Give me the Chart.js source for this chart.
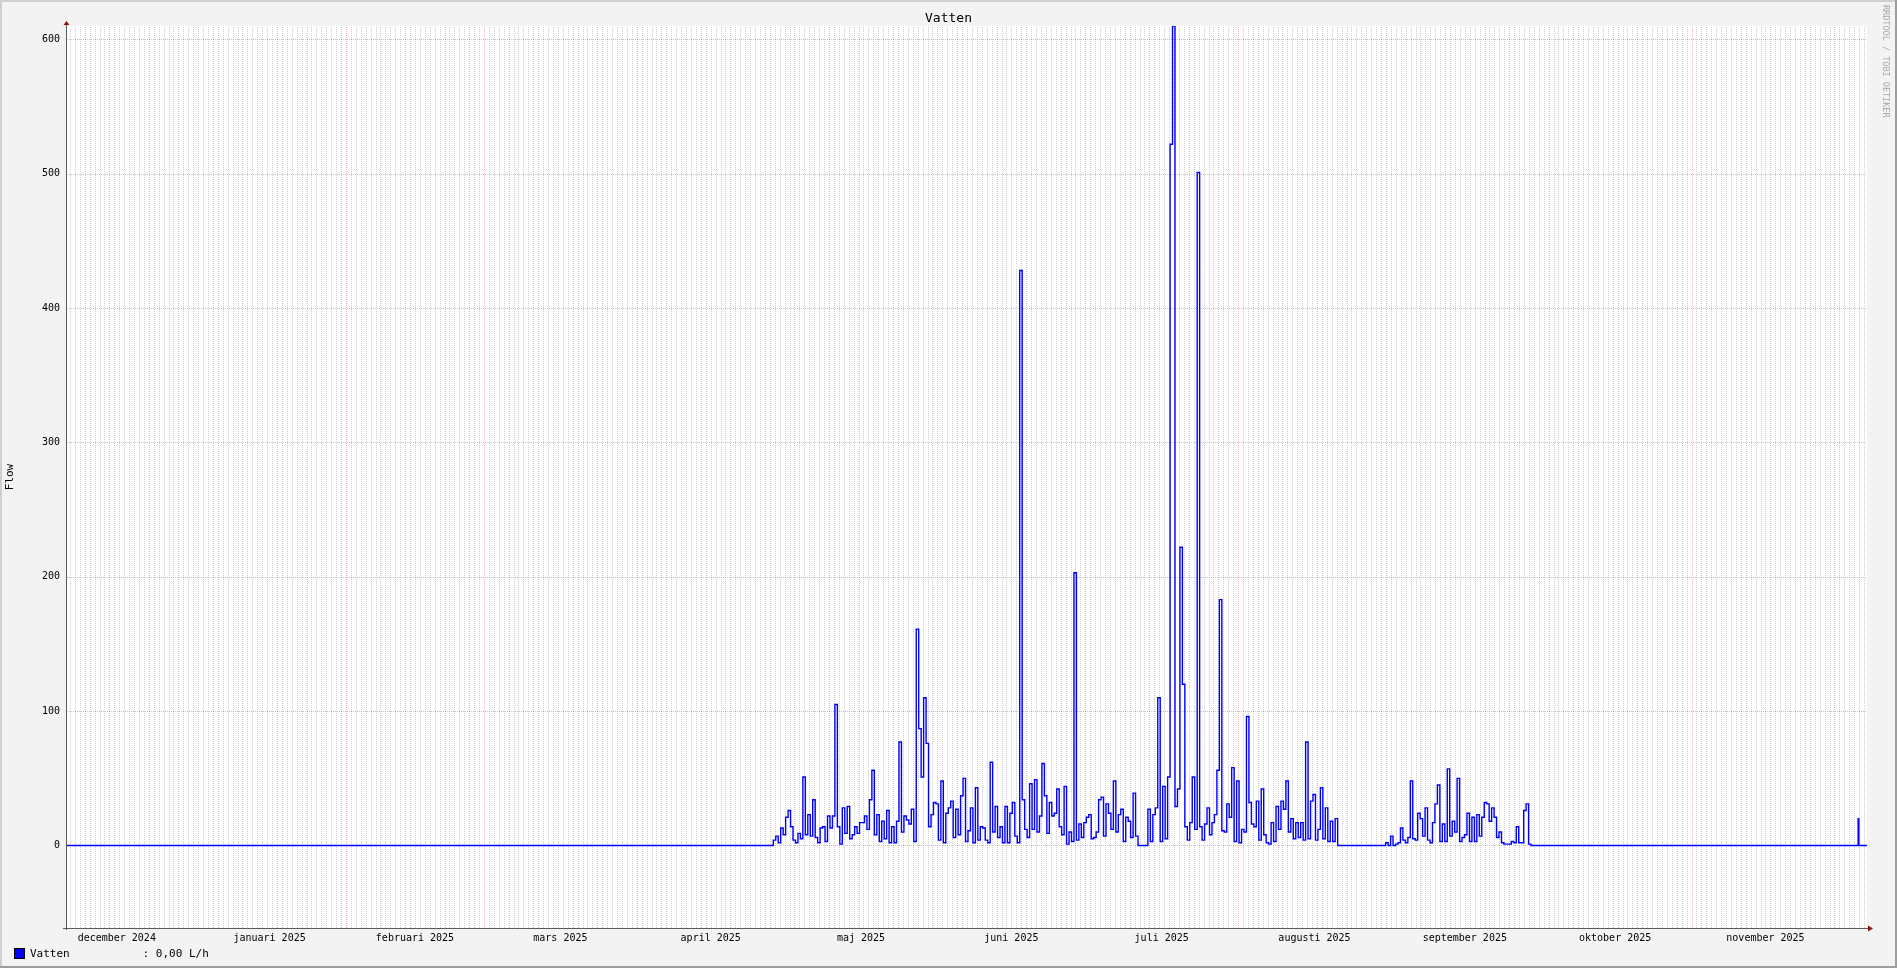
<!DOCTYPE html>
<html>
<head>
<meta charset="utf-8">
<title>Vatten</title>
<script src="https://cdn.jsdelivr.net/npm/chart.js@4.4.1/dist/chart.umd.min.js"></script>
<style>
  html, body { margin: 0; padding: 0; background: #f3f3f3; }
  canvas { display: block; }
</style>
</head>
<body>
<canvas id="vatten" width="1897" height="968"></canvas>
<script>
(function() {

  'use strict';

  // Time axis is counted in days from 1 January 2025.
  const X_MIN = -25.6;
  const X_MAX = 339.6;
  const Y_MIN = -61.41;
  const Y_MAX = 610;

  const monthStarts = [-31, 0, 31, 59, 90, 120, 151, 181, 212, 243, 273, 304, 334];
  const monthLabels = [
    'december 2024', 'januari 2025', 'februari 2025', 'mars 2025',
    'april 2025', 'maj 2025', 'juni 2025', 'juli 2025',
    'augusti 2025', 'september 2025', 'oktober 2025', 'november 2025',
  ];
  const yTicks = [0, 100, 200, 300, 400, 500, 600];

  // Flow in L/h, one value per half day.
  const STEP = 0.5;
  const springStart = 117.7;
  const springFlow = [
    4, 7, 2, 13, 8, 21, 26, 14, 4, 2,
    9, 5, 51, 8, 23, 7, 34, 6, 2, 13,
    14, 3, 22, 13, 22, 105, 14, 1, 28, 9,
    29, 5, 8, 14, 9, 17, 17, 22, 12, 34,
    56, 8, 23, 3, 18, 5, 26, 2, 14, 2,
    18, 77, 10, 22, 19, 16, 27,
    3, 161, 87, 51, 110, 76, 14, 23, 32, 31,
    4, 48, 2, 24, 28, 33, 6, 27, 8, 37,
    50, 3, 11, 28, 2, 43, 4, 14, 13, 4,
    2, 62, 10, 29, 6, 14, 2, 29, 2, 24,
    32, 7, 2, 428, 34, 12, 6, 46, 12, 49,
    10, 22, 61, 37, 9, 32, 22, 24, 42, 14,
    8, 44, 1, 10, 3, 203, 4, 16, 6, 17,
    21, 23, 5, 6, 10, 34, 36, 7, 31, 24,
    12, 48, 10, 23, 27, 3, 21, 18, 6, 39,
    7, 0, 0, 0, 0, 27, 3, 23, 28, 110,
    3, 44, 5, 51, 522, 610, 29, 42, 222, 120,
    14, 4, 17, 51, 12, 501, 14, 4, 16, 28,
    8, 17, 23, 56, 183, 11, 10, 31, 21,
    58, 3, 48, 2, 12, 10, 96, 32, 16, 14,
    33, 4, 42, 8, 2, 1, 17, 3, 29, 12,
    33, 27, 48, 10, 20, 5, 17, 6, 17, 4,
    77, 5, 33, 38, 4, 12, 43, 5, 28, 3,
    18, 3, 20,
  ];
  const autumnStart = 241.44;
  const autumnFlow = [
    0, 2, 0, 7, 0, 1, 2, 13, 4, 2,
    6, 48, 5, 4, 24, 20, 7, 28, 4, 2,
    17, 31, 45, 3, 16, 3, 57, 7, 18, 10,
    50, 3, 6, 8, 24, 3, 21, 3, 23, 7,
    21, 32, 31, 18, 28, 21, 6, 10, 2, 1,
    1, 1, 3, 2, 14, 2, 2, 26, 31, 1,
  ];
  const lateStart = 337.8;
  const lateFlow = [20];
  const LATE_STEP = 0.15;

  const titleText = 'Vatten';
  const axisTitle = 'Flow';
  const legendText = 'Vatten           : 0,00 L/h';
  const watermark = 'RRDTOOL / TOBI OETIKER';
  const lineColor = '#0000ff';
  const mono = '"DejaVu Sans Mono", "Liberation Mono", monospace';

  let points = [{x: X_MIN, y: 0}];
  function addRun(start, step, values) {
    values.forEach((v, i) => points.push({x: start + i * step, y: v}));
    points.push({x: start + values.length * step, y: 0});
  }
  addRun(springStart, STEP, springFlow);
  addRun(autumnStart, STEP, autumnFlow);
  addRun(lateStart, LATE_STEP, lateFlow);
  points.push({x: X_MAX, y: 0});

  let rrdFrame = {
    id: 'rrdFrame',
    beforeDraw: function(chart) {
      let ctx = chart.ctx;
      let area = chart.chartArea;
      let xs = chart.scales.x;
      let ys = chart.scales.y;
      let w = chart.width;
      let h = chart.height;

      ctx.save();
      ctx.fillStyle = '#f3f3f3';
      ctx.fillRect(0, 0, w, h);
      ctx.fillStyle = '#cfcfcf';
      ctx.fillRect(0, 0, w, 2);
      ctx.fillRect(0, 0, 2, h);
      ctx.fillStyle = '#9e9e9e';
      ctx.fillRect(0, h - 2, w, 2);
      ctx.fillRect(w - 2, 0, 2, h);
      ctx.fillStyle = '#ffffff';
      ctx.fillRect(area.left, area.top, area.right - area.left, area.bottom - area.top);

      ctx.lineWidth = 1;
      ctx.setLineDash([1, 1]);

      // daily minor grid
      ctx.strokeStyle = 'rgba(143, 143, 143, 0.45)';
      ctx.beginPath();
      for (let d = Math.ceil(X_MIN); d <= X_MAX; d++) {
        if (monthStarts.indexOf(d) !== -1) {
          continue;
        }
        let px = Math.round(xs.getPixelForValue(d)) + 0.5;
        ctx.moveTo(px, area.bottom);
        ctx.lineTo(px, area.top);
      }
      ctx.stroke();

      // monthly and value major grid
      ctx.strokeStyle = 'rgba(240, 0, 0, 0.3)';
      ctx.beginPath();
      monthStarts.forEach((d) => {
        if (d > X_MIN && d < X_MAX) {
          let px = Math.round(xs.getPixelForValue(d)) + 0.5;
          ctx.moveTo(px, area.bottom);
          ctx.lineTo(px, area.top);
        }
      });
      yTicks.forEach((v) => {
        let py = Math.round(ys.getPixelForValue(v)) + 0.5;
        ctx.moveTo(area.left, py);
        ctx.lineTo(area.right, py);
      });
      ctx.stroke();
      ctx.restore();
    },
    afterDraw: function(chart) {
      let ctx = chart.ctx;
      let area = chart.chartArea;
      let ax = area.left - 0.5;
      let ay = area.bottom + 0.5;

      ctx.save();
      ctx.lineWidth = 1;
      ctx.strokeStyle = '#5a5a5a';
      ctx.beginPath();
      ctx.moveTo(area.left - 4, ay);
      ctx.lineTo(area.right + 2, ay);
      ctx.moveTo(ax, area.bottom + 2);
      ctx.lineTo(ax, area.top - 2);
      ctx.stroke();

      ctx.fillStyle = '#8b1010';
      ctx.beginPath();
      ctx.moveTo(ax - 3, area.top - 1);
      ctx.lineTo(ax + 3, area.top - 1);
      ctx.lineTo(ax, area.top - 5);
      ctx.closePath();
      ctx.fill();
      ctx.beginPath();
      ctx.moveTo(area.right + 1, ay - 3);
      ctx.lineTo(area.right + 1, ay + 3);
      ctx.lineTo(area.right + 6, ay);
      ctx.closePath();
      ctx.fill();

      ctx.fillStyle = '#000000';
      ctx.font = '13px ' + mono;
      ctx.textAlign = 'center';
      ctx.textBaseline = 'middle';
      ctx.fillText(titleText, chart.width / 2, 19);

      ctx.save();
      ctx.font = '11px ' + mono;
      ctx.translate(10, (area.top + area.bottom) / 2);
      ctx.rotate(-Math.PI / 2);
      ctx.fillText(axisTitle, 0, 0);
      ctx.restore();

      ctx.save();
      ctx.font = '8.5px ' + mono;
      ctx.fillStyle = '#a8a8a8';
      ctx.textAlign = 'left';
      ctx.translate(1885, 5);
      ctx.rotate(Math.PI / 2);
      ctx.fillText(watermark, 0, 0);
      ctx.restore();

      ctx.fillStyle = lineColor;
      ctx.fillRect(15, 949, 9, 9);
      ctx.strokeStyle = '#000000';
      ctx.strokeRect(14.5, 948.5, 10, 10);
      ctx.fillStyle = '#000000';
      ctx.font = '11px ' + mono;
      ctx.textAlign = 'left';
      ctx.textBaseline = 'alphabetic';
      ctx.fillText(legendText, 30, 957);
      ctx.restore();
    },
  };

  let config = {
    type: 'line',
    data: {
      datasets: [
        {
          label: 'Vatten',
          data: points,
          borderColor: lineColor,
          borderWidth: 1.4,
          pointRadius: 0,
          stepped: true,
          fill: false,
          tension: 0,
        }],
    },
    options: {
      responsive: false,
      animation: false,
      devicePixelRatio: 1,
      layout: {
        padding: {left: 0, right: 30, top: 26, bottom: 0},
      },
      plugins: {
        legend: {display: false},
        title: {display: false},
        tooltip: {enabled: false},
      },
      scales: {
        x: {
          type: 'linear',
          min: X_MIN,
          max: X_MAX,
          grid: {display: false, drawTicks: false},
          border: {display: false},
          ticks: {
            autoSkip: false,
            maxRotation: 0,
            padding: 4,
            color: '#000000',
            font: {family: mono, size: 10},
            callback: (value, index) => monthLabels[index],
          },
          afterBuildTicks: (scale) => {
            scale.ticks = monthLabels.map((label, i) => ({
              value: (monthStarts[i] + monthStarts[i + 1]) / 2,
            }));
          },
          afterFit: (scale) => {
            scale.height = 40;
          },
        },
        y: {
          type: 'linear',
          min: Y_MIN,
          max: Y_MAX,
          grid: {display: false, drawTicks: false},
          border: {display: false},
          ticks: {
            padding: 7,
            color: '#000000',
            font: {family: mono, size: 10},
            callback: (value) => String(value),
          },
          afterBuildTicks: (scale) => {
            scale.ticks = yTicks.map((v) => ({value: v}));
          },
          afterFit: (scale) => {
            scale.width = 67;
          },
        },
      },
    },
    plugins: [rrdFrame],
  };

  let chart = new Chart(document.getElementById('vatten'), config);

})();
</script>
</body>
</html>
